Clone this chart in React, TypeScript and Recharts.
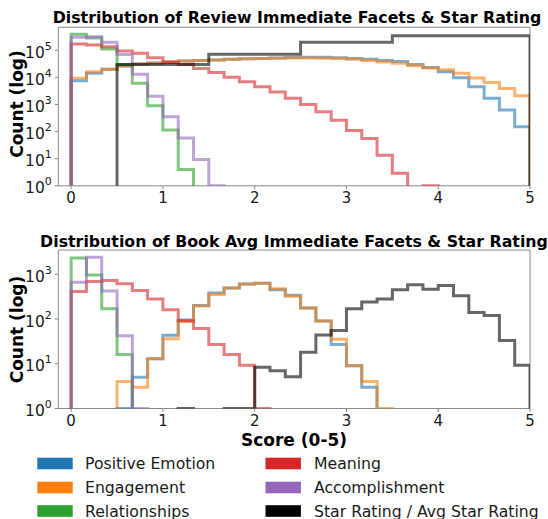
import React from 'react';
import { LineChart, Line, XAxis, YAxis, ReferenceArea } from 'recharts';

// ---- categories: 30 histogram bins of width 1/6 on the 0-5 score range ----
const BIN_EDGES = Array.from({ length: 31 }, (_, i) => (i * 5) / 30);
const X_TICKS = [0, 1, 2, 3, 4, 5];
const TOP_Y_TICKS = [1, 10, 100, 1000, 10000, 100000];
const BOTTOM_Y_TICKS = [1, 10, 100, 1000];

// ---- Review-level counts per bin ----
const reviewPositiveEmotion = [7500, 14000, 20000, 26000, 31000, 34000, 37000, 40000, 42000, 44000, 46000, 48000, 50000, 52000, 54000, 55000, 55000, 53000, 50000, 46000, 42000, 38000, 30000, 23000, 16000, 9700, 4500, 1700, 620, 150];
const reviewEngagement = [9200, 16000, 20000, 26000, 31000, 34000, 37000, 40000, 42000, 44000, 46000, 48000, 50000, 51000, 52000, 52000, 51000, 49000, 46000, 42000, 37000, 33000, 27000, 22000, 19000, 14000, 9500, 6400, 3900, 2100];
const reviewRelationships = [390000, 280000, 110000, 30000, 6000, 900, 115, 4, 0, 0, 0, 0, 0, 0, 0, 0, 0, 0, 0, 0, 0, 0, 0, 0, 0, 0, 0, 0, 0, 0];
const reviewMeaning = [170000, 155000, 135000, 93000, 77000, 53000, 36000, 30000, 21000, 15000, 10000, 6900, 4500, 2900, 1700, 1000, 540, 260, 110, 56, 13.5, 2.9, 0, 1, 0, 0, 0, 0, 0, 0];
const reviewAccomplishment = [300000, 315000, 195000, 70000, 13000, 2000, 350, 58, 9.4, 1, 0, 0, 0, 0, 0, 0, 0, 0, 0, 0, 0, 0, 0, 0, 0, 0, 0, 0, 0, 0];
const reviewStar = [0, 0, 0, 30000, 30000, 30000, 30000, 30000, 30000, 71000, 71000, 71000, 71000, 71000, 71000, 195000, 195000, 195000, 195000, 195000, 195000, 345000, 345000, 345000, 345000, 345000, 345000, 345000, 345000, 345000];

// ---- Book-average counts per bin ----
const bookPositiveEmotion = [0, 0, 0, 1, 5, 13, 43, 95, 200, 380, 490, 600, 630, 450, 340, 175, 90, 27, 9, 3, 0, 0, 0, 0, 0, 0, 0, 0, 0, 0];
const bookEngagement = [0, 0, 0, 4, 3, 13, 36, 88, 195, 350, 490, 600, 630, 470, 320, 175, 90, 35, 9, 4, 1, 0, 0, 0, 0, 0, 0, 0, 0, 0];
const bookRelationships = [2300, 960, 170, 16, 0, 0, 0, 0, 0, 0, 0, 0, 0, 0, 0, 0, 0, 0, 0, 0, 0, 0, 0, 0, 0, 0, 0, 0, 0, 0];
const bookMeaning = [410, 690, 720, 610, 430, 280, 160, 91, 61, 27, 16, 9.2, 1, 0, 0, 0, 0, 0, 0, 0, 0, 0, 0, 0, 0, 0, 0, 0, 0, 0];
const bookAccomplishment = [660, 2400, 420, 42, 1, 0, 0, 0, 0, 0, 0, 0, 0, 0, 0, 0, 0, 0, 0, 0, 0, 0, 0, 0, 0, 0, 0, 0, 0, 0];
const bookStar = [0, 0, 0, 0, 0, 0, 0, 1, 0, 0, 1, 1, 8.3, 7, 5.1, 18, 44, 55, 170, 240, 280, 450, 580, 460, 560, 330, 140, 120, 33, 9.2];

const SERIES = [
  { key: 'pe', name: 'Positive Emotion', color: '#1f77b4' },
  { key: 'en', name: 'Engagement', color: '#ff7f0e' },
  { key: 're', name: 'Relationships', color: '#2ca02c' },
  { key: 'me', name: 'Meaning', color: '#d62728' },
  { key: 'ac', name: 'Accomplishment', color: '#9467bd' },
  { key: 'st', name: 'Star Rating / Avg Star Rating', color: '#000000' },
];

const FLOOR = 1e-3; // stands in for empty bins on the log axis (falls below the plot)

function buildRows(values: Record<string, number[]>) {
  const keys = Object.keys(values);
  const rows: Record<string, number>[] = [];
  const first: Record<string, number> = { x: BIN_EDGES[0] };
  keys.forEach((k) => (first[k] = FLOOR));
  rows.push(first);
  for (let i = 0; i < BIN_EDGES.length - 1; i++) {
    const r: Record<string, number> = { x: BIN_EDGES[i] };
    keys.forEach((k) => (r[k] = values[k][i] > 0 ? values[k][i] : FLOOR));
    rows.push(r);
  }
  const lastIdx = BIN_EDGES.length - 2;
  const end: Record<string, number> = { x: BIN_EDGES[BIN_EDGES.length - 1] };
  keys.forEach((k) => (end[k] = values[k][lastIdx] > 0 ? values[k][lastIdx] : FLOOR));
  rows.push(end);
  const drop: Record<string, number> = { x: BIN_EDGES[BIN_EDGES.length - 1] };
  keys.forEach((k) => (drop[k] = FLOOR));
  rows.push(drop);
  return rows;
}

const topRows = buildRows({
  pe: reviewPositiveEmotion,
  en: reviewEngagement,
  re: reviewRelationships,
  me: reviewMeaning,
  ac: reviewAccomplishment,
  st: reviewStar,
});
const bottomRows = buildRows({
  pe: bookPositiveEmotion,
  en: bookEngagement,
  re: bookRelationships,
  me: bookMeaning,
  ac: bookAccomplishment,
  st: bookStar,
});

const FONT = 'DejaVu Sans';
const FRAME = '#8a8a8a';

const LogTick = (props: any) => {
  const { x, y, payload } = props;
  const exp = Math.round(Math.log10(payload.value));
  return (
    <text x={x} y={y + 7.6} textAnchor="end" fontSize={15.5} fill="#1a1a1a" fontFamily={FONT}>
      10
      <tspan dy={-8} fontSize={11}>
        {exp}
      </tspan>
    </text>
  );
};

const XTick = (props: any) => {
  const { x, y, payload } = props;
  return (
    <text x={x} y={y + 10.5} textAnchor="middle" fontSize={15} fill="#1a1a1a" fontFamily={FONT}>
      {payload.value}
    </text>
  );
};

const X_MIN = -0.14;

function Panel({ rows, yMax, yTicks, top }: { rows: any[]; yMax: number; yTicks: number[]; top: number }) {
  const plotTop = top;
  return (
    <LineChart
      width={548}
      height={plotTop + 158.5 + 25}
      data={rows}
      margin={{ top: plotTop, right: 18, left: 0, bottom: 0 }}
    >
      <XAxis
        dataKey="x"
        type="number"
        domain={[X_MIN, 5]}
        allowDataOverflow
        ticks={X_TICKS}
        height={25}
        axisLine={false}
        tickLine={{ stroke: FRAME }}
        tickSize={3.5}
        tickMargin={3}
        tick={<XTick />}
        interval={0}
      />
      <YAxis
        type="number"
        scale="log"
        domain={[1, yMax]}
        allowDataOverflow
        ticks={yTicks}
        width={58.3}
        axisLine={false}
        tickLine={{ stroke: FRAME }}
        tickSize={3.5}
        tickMargin={3}
        tick={<LogTick />}
        interval={0}
      />
      <ReferenceArea
        x1={X_MIN}
        x2={5}
        y1={1}
        y2={yMax}
        fill="none"
        stroke={FRAME}
        strokeWidth={1}
        fillOpacity={0}
        strokeOpacity={1}
        ifOverflow="visible"
      />
      {SERIES.map((s) => (
        <Line
          key={s.key}
          dataKey={s.key}
          type="stepAfter"
          stroke={s.color}
          strokeOpacity={0.6}
          strokeWidth={3}
          dot={false}
          activeDot={false}
          isAnimationActive={false}
          strokeLinejoin="miter"
        />
      ))}
    </LineChart>
  );
}

export default function App() {
  const legendLeft = SERIES.slice(0, 3);
  const legendRight = SERIES.slice(3);
  const rowsY = [463.5, 487.5, 511];
  return (
    <div style={{ position: 'absolute', left: 0, top: 0, width: 548, height: 519, background: '#fff', fontFamily: FONT }}>
      <div style={{ position: 'absolute', left: 0, top: 0 }}>
        <Panel rows={topRows} yMax={700000} yTicks={TOP_Y_TICKS} top={27.3} />
      </div>
      <div style={{ position: 'absolute', left: 0, top: 225 }}>
        <Panel rows={bottomRows} yMax={3470} yTicks={BOTTOM_Y_TICKS} top={25} />
      </div>
      <svg
        width={548}
        height={519}
        style={{ position: 'absolute', left: 0, top: 0, pointerEvents: 'none' }}
        fontFamily={FONT}
      >
        <text x={297} y={22.5} textAnchor="middle" fontSize={15.8} fontWeight="bold" fill="#000">
          Distribution of Review Immediate Facets &amp; Star Rating
        </text>
        <text x={294} y={246.5} textAnchor="middle" fontSize={15.8} fontWeight="bold" fill="#000">
          Distribution of Book Avg Immediate Facets &amp; Star Rating
        </text>
        <text x={294} y={446} textAnchor="middle" fontSize={17} fontWeight="bold" fill="#000">
          Score (0-5)
        </text>
        <text x={23} y={104} textAnchor="middle" fontSize={17} fontWeight="bold" fill="#000" transform="rotate(-90 23 104)">
          Count (log)
        </text>
        <text x={23} y={329.5} textAnchor="middle" fontSize={17} fontWeight="bold" fill="#000" transform="rotate(-90 23 329.5)">
          Count (log)
        </text>
        {legendLeft.map((s, i) => (
          <g key={s.key}>
            <rect x={37.3} y={rowsY[i] - 5.8} width={35.4} height={11.6} fill={s.color} />
            <text x={85} y={rowsY[i] + 5.5} fontSize={15.7} fill="#1a1a1a">
              {s.name}
            </text>
          </g>
        ))}
        {legendRight.map((s, i) => (
          <g key={s.key}>
            <rect x={265.5} y={rowsY[i] - 5.8} width={35.4} height={11.6} fill={s.color} />
            <text x={314} y={rowsY[i] + 5.5} fontSize={15.7} fill="#1a1a1a">
              {s.name}
            </text>
          </g>
        ))}
      </svg>
    </div>
  );
}
